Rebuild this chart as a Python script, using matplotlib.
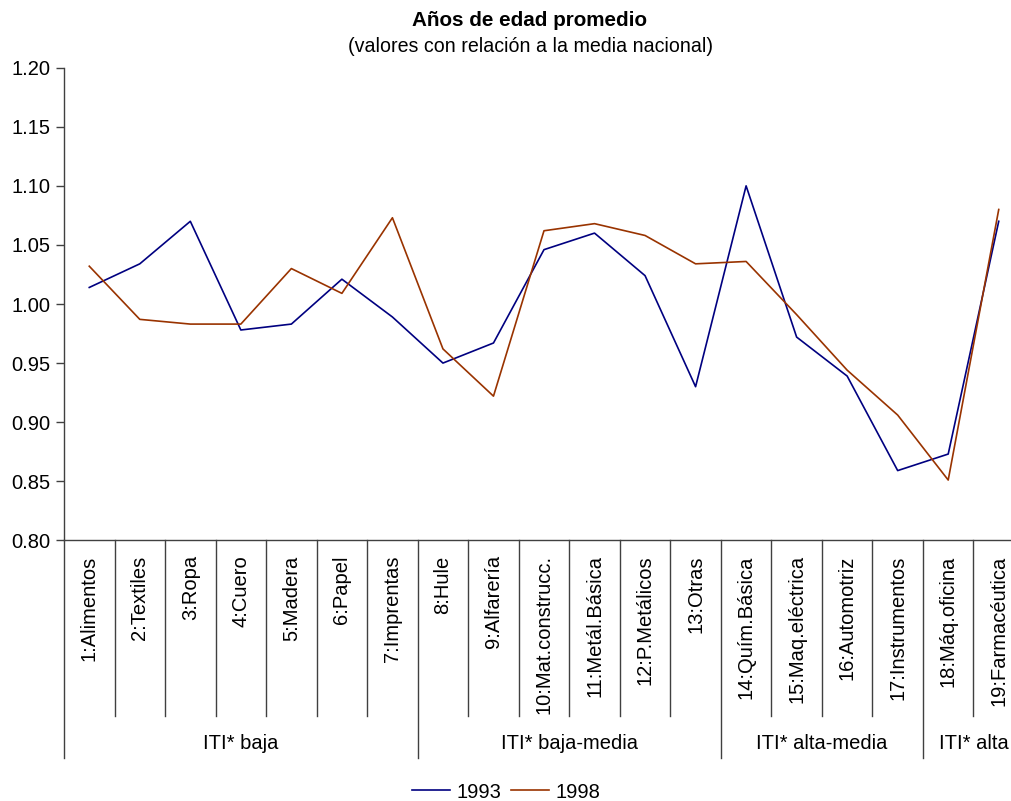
import matplotlib
matplotlib.use('Agg')
from matplotlib import pyplot as plt

plt.rcParams['font.family'] = ['Liberation Sans', 'DejaVu Sans']

sectores = ['1:Alimentos', '2:Textiles', '3:Ropa', '4:Cuero', '5:Madera', '6:Papel',
            '7:Imprentas', '8:Hule', '9:Alfarería', '10:Mat.construcc.',
            '11:Metál.Básica', '12:P.Metálicos', '13:Otras', '14:Quím.Básica',
            '15:Maq.eléctrica', '16:Automotriz', '17:Instrumentos', '18:Máq.oficina',
            '19:Farmacéutica']
y1993 = [1.014, 1.034, 1.070, 0.978, 0.983, 1.021, 0.989, 0.950, 0.967, 1.046,
         1.060, 1.024, 0.930, 1.100, 0.972, 0.939, 0.859, 0.873, 1.070]
y1998 = [1.032, 0.987, 0.983, 0.983, 1.030, 1.009, 1.073, 0.962, 0.922, 1.062,
         1.068, 1.058, 1.034, 1.036, 0.991, 0.944, 0.906, 0.851, 1.080]
grupos = ['ITI* baja', 'ITI* baja-media', 'ITI* alta-media', 'ITI* alta']
tam_grupos = [7, 6, 4, 2]

W, H = 1011, 801
fig = plt.figure(figsize=(W / 100, H / 100), dpi=100)
# right edge of the plot runs a little past the figure border
x0, x1, ybot, ytop = 64, 1024, 540.3, 67.7
ax = fig.add_axes([x0 / W, 1 - ybot / H, (x1 - x0) / W, (ybot - ytop) / H])

n = len(sectores)
xs = list(range(n))
ax.plot(xs, y1993, color='#000080', lw=1.2, label='1993')
ax.plot(xs, y1998, color='#993300', lw=1.2, label='1998')

ax.set_xlim(-0.5, n - 0.5)
ax.set_ylim(0.80, 1.20)
ax.set_yticks([0.80, 0.85, 0.90, 0.95, 1.00, 1.05, 1.10, 1.15, 1.20])
ax.set_yticklabels(['%.2f' % v for v in ax.get_yticks()], fontsize=14.5)
ax.tick_params(axis='y', length=6, width=1, color='#404040', pad=4)
ax.set_xticks([])
for s in ['top', 'right']:
    ax.spines[s].set_visible(False)
for s in ['left', 'bottom']:
    ax.spines[s].set_color('#404040')
    ax.spines[s].set_linewidth(1)

# category labels and separator lines below the axis
px = 1.0 / (ybot - ytop)
trans = ax.get_xaxis_transform()
for i, lab in enumerate(sectores):
    ax.text(i, -15 * px, lab, rotation=90, ha='center', va='top',
            fontsize=14.5, transform=trans)

bordes = [-0.5]
for t in tam_grupos:
    bordes.append(bordes[-1] + t)
for k in range(n + 1):
    b = k - 0.5
    largo = 218 if b in bordes else 176
    ax.plot([b, b], [0, -largo * px], color='#404040', lw=1,
            transform=trans, clip_on=False)

for g, a, b in zip(grupos, bordes[:-1], bordes[1:]):
    ax.text((a + b) / 2, -203 * px, g, ha='center', va='center',
            fontsize=14.5, transform=trans)

fig.text(530 / W, 1 - 20 / H, 'Años de edad promedio', ha='center', va='center',
         fontsize=14.9, fontweight='bold')
fig.text(530 / W, 1 - 47 / H, '(valores con relación a la media nacional)',
         ha='center', va='center', fontsize=14.1)

fig.legend(loc='center', bbox_to_anchor=(506 / W, 1 - 792 / H), ncol=2,
           frameon=False, fontsize=14.5, handlelength=1.9, handletextpad=0.3,
           columnspacing=0.5, borderpad=0)

fig.savefig('out.png', dpi=100)
